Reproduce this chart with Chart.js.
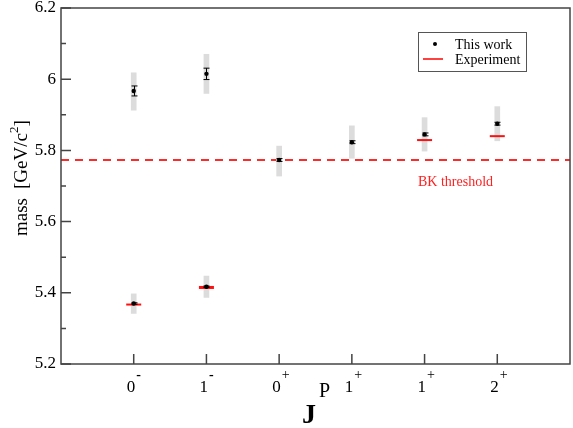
<!DOCTYPE html>
<html>
<head>
<meta charset="utf-8">
<script src="https://cdn.jsdelivr.net/npm/chart.js@4"></script>
<style>
  html, body { margin: 0; padding: 0; background: #fff; }
</style>
</head>
<body>
<canvas id="massChart" width="573" height="428"></canvas>
<script>
// J^P slots along the x axis
const slots = [1, 2, 3, 4, 5, 6];
const spins = ['0', '1', '0', '1', '1', '2'];
const parities = ['-', '-', '+', '+', '+', '+'];

// "This work": masses, statistical errors and grey systematic bands
const workX = [1, 2, 3, 4, 5, 6, 1, 2];
const workMass = [5.967, 6.015, 5.773, 5.823, 5.845, 5.875, 5.370, 5.417];
const workErr = [0.014, 0.016, 0.004, 0.004, 0.004, 0.004, 0.002, 0.002];
const bandLow = [5.913, 5.960, 5.728, 5.778, 5.798, 5.827, 5.342, 5.387];
const bandHigh = [6.018, 6.070, 5.812, 5.869, 5.892, 5.923, 5.397, 5.447];

// experimental masses
const expX = [1, 2, 5, 6];
const expMass = [5.367, 5.415, 5.829, 5.840];

const bkThreshold = 5.773;

const serif = "'Liberation Serif', 'Times New Roman', serif";

const decor = {
  id: 'decor',
  afterDatasetsDraw(chart) {
    const { ctx, chartArea: a, scales: { x, y } } = chart;
    ctx.save();

    // error bars
    ctx.strokeStyle = '#000';
    ctx.lineWidth = 1;
    workX.forEach((v, i) => {
      const px = Math.round(x.getPixelForValue(v)) + 0.5;
      const top = y.getPixelForValue(workMass[i] + workErr[i]);
      const bot = y.getPixelForValue(workMass[i] - workErr[i]);
      ctx.beginPath();
      ctx.moveTo(px, top); ctx.lineTo(px, bot);
      ctx.moveTo(px - 3, top); ctx.lineTo(px + 3, top);
      ctx.moveTo(px - 3, bot); ctx.lineTo(px + 3, bot);
      ctx.stroke();
    });

    // frame
    ctx.strokeStyle = '#444';
    ctx.lineWidth = 1.5;
    ctx.strokeRect(a.left, a.top, a.right - a.left, a.bottom - a.top);

    // inward ticks on y (major + minor)
    ctx.beginPath();
    y.ticks.forEach((t, i) => {
      const py = y.getPixelForValue(t.value);
      ctx.moveTo(a.left, py); ctx.lineTo(a.left + 10, py);
      if (i < y.ticks.length - 1) {
        const pm = y.getPixelForValue(t.value + 0.1);
        ctx.moveTo(a.left, pm); ctx.lineTo(a.left + 5, pm);
      }
    });
    // inward ticks on x
    slots.forEach(s => {
      const px = x.getPixelForValue(s);
      ctx.moveTo(px, a.bottom); ctx.lineTo(px, a.bottom - 10);
    });
    ctx.stroke();

    // x tick labels with parity superscripts
    ctx.fillStyle = '#000';
    ctx.textBaseline = 'alphabetic';
    ctx.textAlign = 'left';
    slots.forEach((s, i) => {
      const px = x.getPixelForValue(s);
      ctx.font = '17px ' + serif;
      const w = ctx.measureText(spins[i]).width;
      ctx.fillText(spins[i], px - 7, a.bottom + 28);
      ctx.font = (parities[i] === '-' ? 'bold ' : '') + '14px ' + serif;
      ctx.fillText(parities[i], px - 7 + w + 1, a.bottom + 15);
    });

    // x title J^P
    ctx.font = 'bold 28px ' + serif;
    ctx.fillText('J', 302, 423);
    ctx.font = '20px ' + serif;
    ctx.fillText('P', 319, 397);

    // y title, rotated
    ctx.save();
    ctx.translate(27, 236);
    ctx.rotate(-Math.PI / 2);
    ctx.font = '19px ' + serif;
    let u = 0;
    ctx.fillText('mass', u, 0);
    u += ctx.measureText('mass').width + 9;
    ctx.fillText('[GeV/c', u, 0);
    u += ctx.measureText('[GeV/c').width;
    ctx.font = '13px ' + serif;
    ctx.fillText('2', u, -9);
    u += ctx.measureText('2').width;
    ctx.font = '19px ' + serif;
    ctx.fillText(']', u, 0);
    ctx.restore();

    // threshold label
    ctx.fillStyle = '#ff2020';
    ctx.font = '14px ' + serif;
    ctx.fillText('BK threshold', 418, 186);

    // legend
    ctx.strokeStyle = '#555';
    ctx.lineWidth = 1;
    ctx.strokeRect(418.5, 32.5, 108, 39);
    ctx.fillStyle = '#000';
    ctx.beginPath();
    ctx.arc(435, 44, 2, 0, Math.PI * 2);
    ctx.fill();
    ctx.strokeStyle = '#ff0000';
    ctx.lineWidth = 1.5;
    ctx.beginPath();
    ctx.moveTo(423, 59); ctx.lineTo(443, 59);
    ctx.stroke();
    ctx.fillStyle = '#000';
    ctx.font = '14px ' + serif;
    ctx.fillText('This work', 455, 49);
    ctx.fillText('Experiment', 455, 64);

    ctx.restore();
  }
};

new Chart(document.getElementById('massChart'), {
  type: 'bar',
  data: {
    datasets: [
      {
        type: 'line',
        data: [{ x: 0, y: bkThreshold }, { x: 7, y: bkThreshold }],
        borderColor: '#ff2a2a',
        borderWidth: 2,
        borderDash: [8, 6],
        pointRadius: 0,
        order: 4
      },
      {
        type: 'bar',
        data: workX.map((v, i) => ({ x: v, y: [bandLow[i], bandHigh[i]] })),
        backgroundColor: '#dcdcdc',
        barThickness: 5,
        order: 3
      },
      {
        type: 'scatter',
        data: expX.map((v, i) => ({ x: v, y: expMass[i] })),
        pointStyle: 'line',
        pointRadius: 7.5,
        borderColor: '#ff1010',
        borderWidth: [2, 3, 2, 2],
        order: 2
      },
      {
        type: 'scatter',
        data: workX.map((v, i) => ({ x: v, y: workMass[i] })),
        pointRadius: 2.2,
        backgroundColor: '#000',
        borderWidth: 0,
        order: 1
      }
    ]
  },
  options: {
    responsive: false,
    animation: false,
    layout: { autoPadding: false, padding: { top: 8, right: 3, left: 0, bottom: 0 } },
    plugins: { legend: { display: false }, tooltip: { enabled: false } },
    scales: {
      x: {
        type: 'linear', min: 0, max: 7, offset: false,
        grid: { display: false }, border: { display: false },
        ticks: { display: false },
        afterFit(s) { s.height = 64; }
      },
      y: {
        min: 5.2, max: 6.2,
        grid: { display: false, drawTicks: false }, border: { display: false },
        ticks: {
          stepSize: 0.2, padding: 5, color: '#000',
          font: { family: serif, size: 17 },
          callback: v => String(+v.toFixed(1))
        },
        afterFit(s) { s.width = 61; s.paddingTop = 0; s.paddingBottom = 0; }
      }
    }
  },
  plugins: [decor]
});
</script>
</body>
</html>
